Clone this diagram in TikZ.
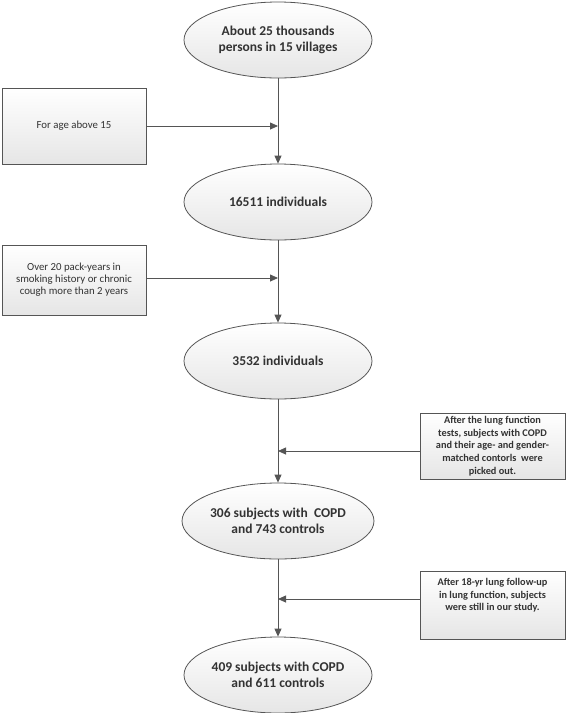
\documentclass[tikz,border=0pt]{standalone}
\usepackage{fontspec}
\setmainfont{Carlito}
\usetikzlibrary{arrows.meta,shapes.geometric}
\definecolor{edge}{HTML}{555555}
\definecolor{txt}{HTML}{333333}
\tikzset{
  ell/.style={ellipse, draw=edge, line width=0.8pt, top color=white, bottom color=gray!20,
    minimum width=188pt, minimum height=76pt, inner sep=0pt, align=center,
    font=\fontsize{13.5}{16.3}\selectfont\bfseries, text=txt},
  lbox/.style={rectangle, draw=edge, line width=0.8pt, top color=white, bottom color=gray!20,
    minimum width=144pt, inner sep=2pt, align=center,
    font=\fontsize{10.8}{12}\selectfont, text=txt},
  rbox/.style={rectangle, draw=edge, line width=0.8pt, top color=white, bottom color=gray!20,
    minimum width=145pt, inner sep=2pt, align=center,
    font=\fontsize{10.3}{12.7}\selectfont\bfseries, text=txt},
  conn/.style={draw=edge, line width=0.8pt},
  arr/.style={conn, -{Triangle[length=8pt,width=7pt]}}
}
\begin{document}
\begin{tikzpicture}[x=1pt,y=-1pt]
\useasboundingbox (0,0) rectangle (567,713);
\node[ell] (e1) at (278,40) {About 25 thousands\\persons in 15 villages};
\node[ell] (e2) at (278,202) {16511 individuals};
\node[ell] (e3) at (278,361) {3532 individuals};
\node[ell] (e4) at (278,521) {306 subjects with\ \ COPD\\and 743 controls};
\node[ell] (e5) at (278,675) {409 subjects with COPD\\and 611 controls};

\node[lbox, minimum height=76pt] (b1) at (74,126) {For age above 15};
\node[lbox, minimum height=70pt] (b2) at (74,280) {Over 20 pack-years in\\smoking history or chronic\\cough more than 2 years};
\node[rbox, minimum height=66pt] (b3) at (492.5,446) {After the lung function\\tests, subjects with COPD\\and their age- and gender-\\matched contorls\ \ were\\picked out.};
\node[rbox, minimum height=68pt] (b4) at (492.5,605) {After 18-yr lung follow-up\\in lung function, subjects\\were still in our study.\\[8pt]};

\coordinate (j1) at (e1.south |- 0,126);
\coordinate (j2) at (e1.south |- 0,278);
\coordinate (j3) at (e1.south |- 0,451);
\coordinate (j4) at (e1.south |- 0,599);

\draw[arr] (e1.south) -- (e2.north);
\draw[arr] (e2.south) -- (e3.north);
\draw[arr] (e3.south) -- (e4.north);
\draw[arr] (e4.south) -- (e5.north);
\draw[arr] (b1.east |- j1) -- (j1);
\draw[arr] (b2.east |- j2) -- (j2);
\draw[arr] (b3.west |- j3) -- (j3);
\draw[arr] (b4.west |- j4) -- (j4);
\end{tikzpicture}
\end{document}
